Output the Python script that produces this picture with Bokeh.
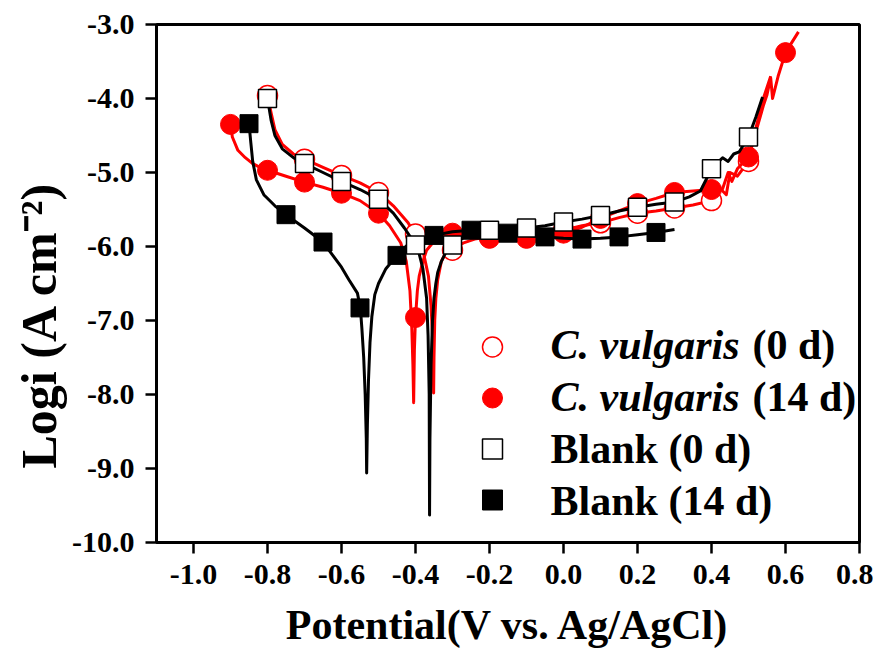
import numpy as np
from bokeh.plotting import figure
from bokeh.models import Label, Legend, LegendItem, FixedTicker, NumeralTickFormatter, Title
from bokeh.embed import file_html
from bokeh.resources import INLINE

# ---------------- data ----------------
# C. vulgaris (0 d) - red line, open circles
cv0_line_x = [-0.80, -0.79, -0.78, -0.76, -0.73, -0.70, -0.65, -0.60, -0.55, -0.50, -0.46, -0.42,
              -0.40, -0.38, -0.365, -0.358, -0.354, -0.352, -0.351, -0.350, -0.348, -0.345, -0.34,
              -0.33, -0.32, -0.30, -0.27, -0.24, -0.20, -0.15, -0.10, -0.05, 0.00, 0.05, 0.10,
              0.15, 0.20, 0.25, 0.30, 0.35, 0.40, 0.42, 0.44, 0.45, 0.47, 0.50, 0.52, 0.54, 0.56]
cv0_line_y = [-3.96, -4.20, -4.42, -4.62, -4.75, -4.82, -4.93, -5.04, -5.14, -5.27, -5.45, -5.68,
              -5.85, -6.05, -6.40, -6.80, -7.20, -7.60, -7.98, -7.50, -7.00, -6.70, -6.45,
              -6.20, -6.10, -6.05, -5.95, -5.90, -5.87, -5.86, -5.85, -5.82, -5.78, -5.72, -5.68,
              -5.61, -5.55, -5.52, -5.48, -5.44, -5.38, -5.20, -5.30, -5.00, -5.05, -4.85, -4.40, -4.00, -3.70]
cv0_mark_x = [-0.8, -0.7, -0.6, -0.5, -0.4, -0.3, -0.2, -0.1, 0.0, 0.1, 0.2, 0.3, 0.4, 0.5]
cv0_mark_y = [-3.96, -4.82, -5.04, -5.27, -5.83, -6.05, -5.87, -5.85, -5.78, -5.68, -5.55, -5.48, -5.38, -4.85]

# C. vulgaris (14 d) - red line, filled circles
cv14_line_x = [-0.90, -0.895, -0.88, -0.86, -0.84, -0.82, -0.80, -0.75, -0.70, -0.65, -0.60, -0.55,
               -0.50, -0.47, -0.44, -0.425, -0.415, -0.41, -0.407, -0.405, -0.403, -0.40, -0.395,
               -0.39, -0.38, -0.37, -0.35, -0.33, -0.30, -0.25, -0.20, -0.15, -0.10, -0.05, 0.00,
               0.05, 0.10, 0.15, 0.20, 0.25, 0.30, 0.35, 0.40, 0.43, 0.445, 0.455, 0.47, 0.50,
               0.52, 0.54, 0.55, 0.56, 0.565, 0.58, 0.60, 0.635]
cv14_line_y = [-4.35, -4.52, -4.70, -4.80, -4.88, -4.93, -4.97, -5.05, -5.13, -5.20, -5.28, -5.38,
               -5.55, -5.72, -5.95, -6.20, -6.60, -7.10, -7.60, -8.11, -7.40, -6.96, -6.60,
               -6.40, -6.20, -6.05, -5.93, -5.86, -5.82, -5.86, -5.89, -5.90, -5.89, -5.87, -5.82,
               -5.74, -5.62, -5.52, -5.42, -5.35, -5.27, -5.25, -5.23, -5.22, -5.00, -5.12, -4.95, -4.79,
               -4.45, -4.10, -3.95, -3.72, -4.00, -3.70, -3.38, -3.10]
cv14_mark_x = [-0.9, -0.8, -0.7, -0.6, -0.5, -0.4, -0.3, -0.2, -0.1, 0.0, 0.1, 0.2, 0.3, 0.4, 0.5, 0.6]
cv14_mark_y = [-4.35, -4.97, -5.13, -5.28, -5.55, -6.96, -5.82, -5.89, -5.89, -5.82, -5.62, -5.42,
               -5.27, -5.23, -4.79, -3.38]

# Blank (0 d) - black line, open squares
b0_line_x = [-0.80, -0.79, -0.78, -0.76, -0.73, -0.70, -0.65, -0.60, -0.55, -0.50, -0.46, -0.43,
             -0.41, -0.40, -0.39, -0.38, -0.37, -0.366, -0.363, -0.362, -0.361, -0.358, -0.354,
             -0.35, -0.345, -0.34, -0.33, -0.32, -0.30, -0.27, -0.25, -0.20, -0.15, -0.10, -0.05,
             0.00, 0.05, 0.10, 0.15, 0.20, 0.25, 0.30, 0.34, 0.37, 0.40, 0.42, 0.43, 0.445, 0.46,
             0.475, 0.50, 0.52, 0.538]
b0_line_y = [-4.00, -4.30, -4.50, -4.68, -4.80, -4.88, -5.00, -5.12, -5.23, -5.36, -5.55, -5.75,
             -5.90, -5.98, -6.10, -6.30, -6.70, -7.20, -8.00, -9.63, -8.60, -7.60, -7.00,
             -6.70, -6.50, -6.35, -6.20, -6.10, -5.98, -5.88, -5.83, -5.78, -5.77, -5.75, -5.72,
             -5.67, -5.63, -5.58, -5.52, -5.47, -5.43, -5.40, -5.33, -5.25, -4.95, -4.85, -4.80,
             -4.85, -4.75, -4.72, -4.52, -4.25, -3.98]
b0_mark_x = [-0.8, -0.7, -0.6, -0.5, -0.4, -0.3, -0.2, -0.1, 0.0, 0.1, 0.2, 0.3, 0.4, 0.5]
b0_mark_y = [-4.00, -4.88, -5.12, -5.36, -5.98, -5.98, -5.78, -5.75, -5.67, -5.58, -5.47, -5.40, -4.95, -4.52]

# Blank (14 d) - black line, filled squares
b14_line_x = [-0.85, -0.845, -0.84, -0.83, -0.81, -0.78, -0.75, -0.70, -0.65, -0.60, -0.58, -0.557,
              -0.549, -0.545, -0.54, -0.536, -0.533, -0.532, -0.530, -0.527, -0.523, -0.518, -0.51,
              -0.50, -0.48, -0.45, -0.42, -0.40, -0.35, -0.30, -0.25, -0.20, -0.15, -0.10, -0.05,
              0.00, 0.05, 0.10, 0.15, 0.20, 0.25, 0.30]
b14_line_y = [-4.34, -4.60, -4.85, -5.10, -5.30, -5.45, -5.57, -5.75, -5.94, -6.28, -6.45, -6.63,
              -6.83, -7.10, -7.50, -8.00, -8.60, -9.06, -8.40, -7.80, -7.30, -6.95, -6.65,
              -6.50, -6.30, -6.12, -5.97, -5.92, -5.85, -5.80, -5.78, -5.80, -5.82, -5.85, -5.87,
              -5.89, -5.90, -5.89, -5.87, -5.84, -5.81, -5.77]
b14_mark_x = [-0.85, -0.75, -0.65, -0.55, -0.45, -0.35, -0.25, -0.15, -0.05, 0.05, 0.15, 0.25]
b14_mark_y = [-4.34, -5.57, -5.94, -6.83, -6.12, -5.85, -5.78, -5.82, -5.87, -5.90, -5.87, -5.81]

x_ticks = [-1.0, -0.8, -0.6, -0.4, -0.2, 0.0, 0.2, 0.4, 0.6, 0.8]
y_ticks = [-10.0, -9.0, -8.0, -7.0, -6.0, -5.0, -4.0, -3.0]
legend_labels = [("C. vulgaris", "(0 d)"), ("C. vulgaris", "(14 d)"), ("", "Blank (0 d)"), ("", "Blank (14 d)")]
x_title = "Potential(V vs. Ag/AgCl)"
y_title = "Logi (A cm\u207b\u00b2)"

FONT = "Liberation Serif"

# ---------------- figure ----------------
p = figure(width=873, height=650, x_range=(-1.1, 0.8), y_range=(-10, -3),
           output_backend="svg", toolbar_location=None,
           min_border_left=156, min_border_right=14, min_border_top=24, min_border_bottom=107)
p.background_fill_color = "white"
p.border_fill_color = "white"
p.xgrid.visible = False
p.ygrid.visible = False
p.outline_line_color = "black"
p.outline_line_width = 3
p.outline_line_alpha = 1

for ax in (p.xaxis, p.yaxis):
    ax.axis_line_width = 3
    ax.major_tick_line_width = 2.5
    ax.major_tick_out = 11
    ax.major_tick_in = 0
    ax.minor_tick_line_color = None
    ax.major_label_text_font = FONT
    ax.major_label_text_font_style = "bold"
    ax.major_label_text_font_size = "30px"
    ax.major_label_text_color = "black"
    ax.major_label_text_line_height = 1.0
    ax.formatter = NumeralTickFormatter(format="0.0")

p.xaxis.ticker = FixedTicker(ticks=x_ticks)
p.yaxis.ticker = FixedTicker(ticks=y_ticks)
p.xaxis.major_label_standoff = 11
p.yaxis.major_label_standoff = 11

p.xaxis.axis_label = x_title
p.xaxis.axis_label_text_font = FONT
p.xaxis.axis_label_text_font_style = "bold"
p.xaxis.axis_label_text_font_size = "42px"
p.xaxis.axis_label_text_line_height = 1.0
p.xaxis.axis_label_standoff = 15
p.xaxis.axis_label_text_color = "black"

# y title as a side title so that it can be offset along the axis
p.add_layout(Title(text=y_title, align="left", offset=74, standoff=6,
                   text_font=FONT, text_font_style="bold", text_font_size="50px",
                   text_color="black"), "left")

# ---------------- series ----------------
LW = 3
p.line(cv0_line_x, cv0_line_y, line_color="red", line_width=LW, line_join="round")
r_cv0 = p.scatter(cv0_mark_x, cv0_mark_y, marker="circle", size=20, fill_color="white",
                  line_color="red", line_width=1.5)
p.line(cv14_line_x, cv14_line_y, line_color="red", line_width=LW, line_join="round")
r_cv14 = p.scatter(cv14_mark_x, cv14_mark_y, marker="circle", size=20, fill_color="red",
                   line_color="red", line_width=1)
p.line(b14_line_x, b14_line_y, line_color="black", line_width=LW, line_join="round")
r_b14 = p.scatter(b14_mark_x, b14_mark_y, marker="square", size=18, fill_color="black",
                  line_color="black", line_width=1)
p.line(b0_line_x, b0_line_y, line_color="black", line_width=LW, line_join="round")
r_b0 = p.scatter(b0_mark_x, b0_mark_y, marker="square", size=18, fill_color="white",
                 line_color="black", line_width=1.5)

# ---------------- legend (markers) ----------------
legend = Legend(items=[LegendItem(label=" ", renderers=[r]) for r in (r_cv0, r_cv14, r_b0, r_b14)],
                location=(311, 17), orientation="vertical",
                glyph_width=50, glyph_height=51, spacing=0, padding=0, margin=0,
                label_standoff=0, label_text_font_size="1px", label_height=1, label_width=1,
                border_line_alpha=0, background_fill_alpha=0)
p.add_layout(legend)

# legend texts (italic species name + upright part)
row_y = [198, 146, 94, 42]
for (ital, upright), ry in zip(legend_labels, row_y):
    x0 = 394
    if ital:
        p.add_layout(Label(x=x0, y=ry, x_units="screen", y_units="screen", text=ital,
                           text_font=FONT, text_font_style="bold italic", text_font_size="42px",
                           text_baseline="middle", text_align="left", text_color="black"))
        x0 = 596
    p.add_layout(Label(x=x0, y=ry, x_units="screen", y_units="screen", text=upright,
                       text_font=FONT, text_font_style="bold", text_font_size="42px",
                       text_baseline="middle", text_align="left", text_color="black"))

open("out.html", "w").write(file_html(p, INLINE))
